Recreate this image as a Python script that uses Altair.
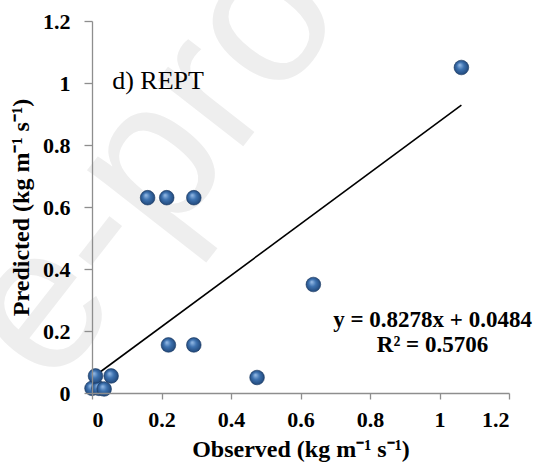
import altair as alt
import pandas as pd

# Data
observed = [0.0, 0.02, 0.035, 0.01, 0.055, 0.475, 0.22, 0.293, 0.637, 0.16, 0.215, 0.293, 1.063]
predicted = [0.015, 0.015, 0.013, 0.055, 0.055, 0.05, 0.155, 0.155, 0.35, 0.63, 0.63, 0.63, 1.05]
slope = 0.8278
intercept = 0.0484
r2 = 0.5706
axis_ticks = [0, 0.2, 0.4, 0.6, 0.8, 1, 1.2]
panel_label = "d) REPT"

pts = pd.DataFrame({"obs": observed, "pred": predicted})
xs = [min(observed), max(observed)]
line_df = pd.DataFrame({"obs": xs, "pred": [slope * v + intercept for v in xs]})
eq_df = pd.DataFrame({
    "obs": [0.98, 0.98],
    "pred": [0.236, 0.155],
    "label": [f"y = {slope}x + {intercept}", f"R\u00b2 = {r2}"],
})
panel_df = pd.DataFrame({"obs": [0.058], "pred": [1.007], "label": [panel_label]})

SERIF = "Liberation Serif"
scale = alt.Scale(domain=[0, 1.2], nice=False)

x_enc = alt.X("obs:Q", scale=scale,
              axis=alt.Axis(values=axis_ticks, format="~g", title="Observed (kg m\u207b\u00b9 s\u207b\u00b9)",
                            grid=False, titlePadding=7, zindex=2))
y_enc = alt.Y("pred:Q", scale=scale,
              axis=alt.Axis(values=axis_ticks, format="~g", title="Predicted (kg m\u207b\u00b9 s\u207b\u00b9)",
                            grid=False, titlePadding=9, zindex=2))

watermark = alt.Chart(pd.DataFrame({"t": ["e-proof"]})).mark_text(
    font="Liberation Sans", fontSize=205, color="#eeeeee", angle=308,
    align="left", baseline="alphabetic"
).encode(x=alt.value(-40), y=alt.value(370), text="t:N")

gradient = alt.RadialGradient(
    gradient="radial", x1=0.38, y1=0.32, r1=0.0, x2=0.5, y2=0.5, r2=0.55,
    stops=[
        alt.GradientStop(color="#9cc0ea", offset=0),
        alt.GradientStop(color="#3d72b0", offset=0.45),
        alt.GradientStop(color="#1d4273", offset=1),
    ],
)

points = alt.Chart(pts).mark_circle(size=215, color=gradient, opacity=1,
                                    stroke="#17365e", strokeWidth=0.6).encode(x=x_enc, y=y_enc)

trend = alt.Chart(line_df).mark_line(color="black", strokeWidth=1.6).encode(x="obs:Q", y="pred:Q")

eq = alt.Chart(eq_df).mark_text(font=SERIF, fontWeight="bold", fontSize=23, align="center",
                                baseline="middle", color="black").encode(
    x="obs:Q", y="pred:Q", text="label:N")

panel = alt.Chart(panel_df).mark_text(font=SERIF, fontSize=26, align="left",
                                      baseline="middle", color="black").encode(
    x="obs:Q", y="pred:Q", text="label:N")

chart = alt.layer(watermark, trend, points, eq, panel).properties(
    width=417, height=372,
    autosize=alt.AutoSizeParams(type="none"),
    padding={"left": 92, "top": 21, "right": 32, "bottom": 82},
).configure_view(stroke=None).configure_axis(
    domainColor="#8e8e8e", tickColor="#8e8e8e", domainWidth=1.3, tickWidth=1.3,
    labelFont=SERIF, labelFontWeight="bold", labelFontSize=22, labelColor="black",
    titleFont=SERIF, titleFontWeight="bold", titleFontSize=24, titleColor="black",
).configure_axisX(tickSize=6, labelPadding=10).configure_axisY(tickSize=8, labelPadding=14)

chart.save("out.html", embed_options={"renderer": "svg", "actions": False})
